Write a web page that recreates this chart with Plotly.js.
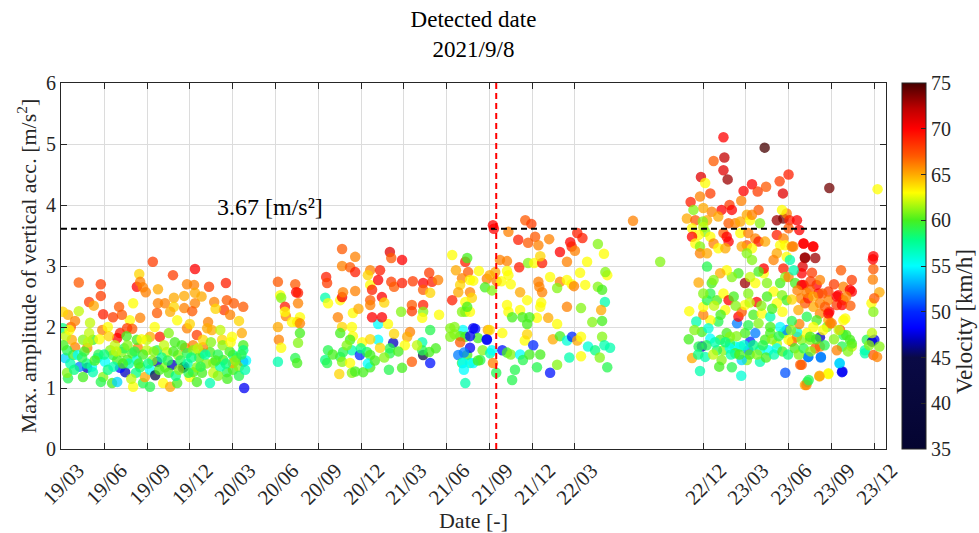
<!DOCTYPE html>
<html><head><meta charset="utf-8">
<script src="https://cdn.plot.ly/plotly-3.0.1.min.js"></script>
<style>html,body{margin:0;padding:0;background:#fff}#chart{width:979px;height:533px}</style>
</head><body><div id="chart"></div>
<script>
// day offsets are counted from 2019-03-01
const baseDateUTC = Date.UTC(2019, 2, 1);
const tickDates = ['2019-03-01','2019-06-01','2019-09-01','2019-12-01','2020-03-01','2020-06-01','2020-09-01','2020-12-01','2021-03-01','2021-06-01','2021-09-01','2021-12-01','2022-03-01','2022-12-01','2023-03-01','2023-06-01','2023-09-01','2023-12-01'];
const tickText = ['19/03','19/06','19/09','19/12','20/03','20/06','20/09','20/12','21/03','21/06','21/09','21/12','22/03','22/12','23/03','23/06','23/09','23/12'];
const velTicks = [35,40,45,50,55,60,65,70,75];
const threshold = 3.61;
const thresholdLabel = '3.67 [m/s²]';
const detectedDate = '2021-09-15';

// [day, max vertical acc (m/s^2), velocity (km/h)]
const pts2019 = [
[196,3.07,68],[286,2.95,70],[38,2.73,67],[85,2.70,68],[167,2.87,64],[162,2.66,70],[169,2.74,66],[239,2.85,68],[269,2.70,66],[284,2.69,66],[316,2.66,68],[352,2.72,69],[181,2.57,66],[207,2.62,65],[85,2.51,68],[60,2.41,68],[124,2.33,67],[154,2.39,63],[207,2.39,66],[222,2.39,66],[241,2.48,65],[263,2.51,65],[286,2.56,65],[286,2.39,66],[327,2.41,66],[354,2.44,67],[369,2.39,67],[389,2.33,67],[348,2.28,68],[361,2.20,66],[263,2.31,66],[280,2.26,67],[241,2.33,64],[233,2.25,65],[248,2.11,63],[205,2.23,67],[169,2.15,66],[147,2.11,63],[130,2.20,67],[111,2.16,68],[90,2.21,69],[38,2.26,62],[15,2.20,65],[4,2.25,64],[314,2.08,66],[322,1.95,65],[312,1.98,65],[386,1.90,65],[290,1.87,68],[269,1.98,66],[211,1.84,69],[190,1.84,65],[152,1.97,67],[126,1.90,69],[120,1.82,70],[141,1.98,68],[88,1.95,66],[62,2.07,62],[21,2.00,67],[4,1.98,58],[30,1.67,66],[56,1.66,66],[164,1.66,66],[265,1.66,66],[282,1.70,66],[344,1.79,64],[365,1.84,63],[389,1.70,60],
[9,1.49,54],[26,1.54,60],[36,1.54,55],[56,1.33,47],[66,1.35,55],[68,1.26,57],[15,1.16,59],[13,1.25,61],[47,1.18,60],[90,1.18,61],[109,1.08,60],[120,1.10,54],[137,1.26,47],[126,1.33,49],[94,1.43,55],[77,1.49,56],[111,1.54,59],[130,1.59,61],[152,1.57,60],[162,1.46,56],[154,1.02,63],[175,1.08,59],[190,1.02,59],[179,1.18,65],[190,1.30,55],[201,1.21,44],[205,1.43,47],[222,1.34,61],[218,1.08,63],[233,1.02,65],[248,1.08,60],[237,1.38,47],[260,1.33,44],[263,1.35,45],[275,1.18,63],[282,1.26,60],[250,1.54,61],[226,1.59,62],[205,1.62,59],[183,1.62,62],[303,1.57,59],[318,1.59,60],[325,1.41,61],[325,1.25,62],[318,1.08,57],[346,1.46,60],[354,1.26,59],[367,1.30,60],[367,1.54,58],[389,1.43,50],[391,1.00,48],[367,1.41,65],[389,1.62,58],[301,1.25,60],[290,1.34,61],[269,1.57,59],[282,1.62,61],[169,1.34,59],[141,1.46,60],[120,1.46,60],[105,1.62,61],[68,1.79,60],[47,1.79,61],[23,1.79,65],[13,1.62,59],[162,1.79,60],[183,1.79,62],[243,1.75,60],[303,1.67,66],[303,1.79,64],
[20,1.40,57],[40,1.35,52],[50,1.60,60],[80,1.55,59],[100,1.30,58],[115,1.70,62],[135,1.65,59],[145,1.40,57],[160,1.25,58],[175,1.55,60],[195,1.45,61],[215,1.50,58],[230,1.25,60],[255,1.45,59],[270,1.40,57],[295,1.50,60],[310,1.40,61],[335,1.55,59],[340,1.35,57],[360,1.60,60],[375,1.50,59],[380,1.35,61],[100,2.00,63],[60,1.90,62],[140,1.85,60],[200,2.00,63],[230,1.90,61],[275,2.05,64],[340,1.95,62],[380,2.10,64],[10,1.85,62],[30,2.10,66],[70,2.35,65],[175,2.65,66],[300,2.50,65],[330,2.30,64],[55,1.40,58],[85,1.10,59],[150,1.15,62],[245,1.20,58],[290,1.10,60],[335,1.20,61],[355,1.15,60],[380,1.20,59],[395,1.45,55],
[5,1.70,60],[18,1.95,63],[28,1.30,58],[45,1.50,59],[58,1.75,62],[72,1.45,60],[82,1.80,63],[92,1.55,58],[102,1.85,64],[112,1.35,57],[118,1.60,62],[132,1.40,60],[142,1.70,61],[157,1.60,59],[166,1.40,60],[172,1.80,63],[186,1.40,58],[198,1.60,61],[210,1.30,60],[220,1.70,62],[228,1.45,59],[240,1.60,60],[252,1.30,61],[258,1.70,60],[272,1.25,59],[278,1.50,58],[292,1.65,62],[298,1.35,59],[308,1.55,57],[320,1.75,61],[330,1.45,60],[345,1.70,61],[352,1.40,58],[362,1.75,63],[372,1.45,61],[385,1.55,59],[393,1.30,57]
];
const pts2020a = [
[463,2.74,67],[468,2.52,63],[470,2.48,61],[478,2.33,69],[480,2.18,66],[478,2.25,63],[463,2.00,65],[465,1.79,66],[470,1.66,63],[463,1.43,57],[500,2.70,67],[502,2.57,70],[506,2.56,69],[506,2.39,66],[510,2.16,63],[504,2.08,64],[493,2.08,63],[510,2.06,66],[510,1.90,60],[506,1.74,61],[500,1.49,59],[504,1.41,60]
];
const pts2020b = [
[566,2.82,69],[568,2.72,68],[600,3.28,67],[628,3.15,66],[600,3.00,66],[617,2.98,67],[628,2.90,69],[564,2.48,57],[570,2.39,63],[596,2.44,63],[600,2.49,70],[602,2.57,66],[628,2.59,66],[660,2.93,66],[655,2.85,64],[660,2.69,63],[664,2.61,69],[660,2.44,67],[660,2.36,66],[681,2.93,69],[677,2.77,70],[685,2.49,70],[702,3.23,71],[705,3.13,67],[728,3.10,70],[705,2.74,68],[711,2.66,67],[728,2.72,69],[751,2.75,68],[773,2.72,70],[773,2.61,67],[786,2.89,68],[792,2.74,69],[788,2.56,64],[805,2.77,66],[749,2.36,67],[749,2.26,68],[773,2.36,69],[773,2.25,61],[771,2.15,63],[807,2.20,63],[726,2.25,61],[788,1.95,59],[745,1.92,66],[739,1.84,65],[734,1.70,63],[709,1.74,47],[711,1.89,64],[702,1.65,59],[702,1.57,59],[677,2.05,55],[677,1.79,55],[681,1.66,64],[698,2.05,63],[685,2.16,70],[664,2.16,70],[623,2.23,63],[591,2.16,66],[600,2.00,64],[621,2.00,63],[596,1.90,60],[623,1.85,63],[617,1.79,60],[643,1.75,63],[660,1.80,64],[621,1.62,57],[638,1.54,50],[653,1.59,59],[660,1.54,60],[602,1.59,59],[596,1.51,59],[600,1.43,61],[570,1.62,59],[564,1.46,58],[568,1.41,59],[594,1.23,64],[617,1.41,63],[621,1.25,61],[628,1.27,60],[645,1.26,60],[660,1.34,60],[655,1.40,55],[728,1.33,60],[749,1.43,67],[771,1.75,57],[773,1.54,44],[788,1.41,49],[786,1.59,60],[771,1.62,59],
[580,1.55,60],[610,1.70,61],[640,1.65,58],[670,1.45,60],[690,1.50,61],[720,1.60,60],[760,1.70,62],[800,1.65,60],[700,1.30,59],[635,2.30,65],[690,2.40,64]
];
const pts2021 = [
[835,3.18,63],[843,2.93,65],[863,3.07,69],[867,3.13,60],[869,2.90,67],[892,2.92,63],[856,2.80,66],[873,2.77,63],[880,2.76,63],[852,2.69,64],[848,2.57,65],[873,2.57,66],[877,2.48,64],[863,2.41,63],[835,2.44,69],[863,2.25,61],[856,2.25,61],[873,2.25,63],[867,2.33,60],[831,1.98,61],[831,1.84,61],[858,1.95,55],[884,1.97,49],[863,1.84,60],[890,1.82,60],[909,1.79,49],[911,1.95,65],[848,1.54,52],[867,1.54,60],[895,1.46,59],[856,1.41,59],[873,1.41,57],[860,1.30,55],[900,1.62,61],[916,1.57,57],
[922,3.67,70],[924,3.61,70],[991,3.75,67],[1004,3.69,68],[955,3.56,66],[976,3.43,69],[997,3.38,67],[1012,3.48,67],[1019,3.34,66],[1042,3.44,66],[1087,3.39,70],[1102,3.54,69],[1113,3.46,69],[1090,3.32,69],[1097,3.25,66],[1146,3.36,61],[1159,3.20,63],[1065,3.23,70],[1080,3.07,66],[1123,3.07,63],[937,3.10,66],[952,3.08,66],[978,2.98,69],[997,3.05,61],[1010,3.05,63],[1027,3.05,69],[1023,3.16,64],[952,2.92,63],[909,2.79,66],[915,2.85,65],[927,2.90,65],[930,2.75,66],[940,2.75,63],[955,2.85,63],[960,2.70,63],[905,2.65,60],[920,2.60,61],[980,2.57,65],[995,2.44,63],[1019,2.74,66],[1021,2.66,66],[1027,2.57,66],[1044,2.82,63],[1065,2.74,66],[1059,2.64,61],[1080,2.77,63],[1090,2.70,63],[1095,2.67,66],[1108,2.89,63],[1119,2.69,63],[1146,2.66,61],[1155,2.61,60],[1161,2.41,57],[1166,2.85,63],[1162,2.90,61],[1080,2.33,66],[1110,2.31,61],[1153,2.28,65],[1134,2.08,61],[1155,2.10,60],[1040,2.15,65],[1059,2.05,63],[1023,2.33,63],[1025,2.40,63],[1016,2.15,63],[995,2.05,60],[980,2.28,63],[952,2.36,63],[955,2.25,63],[963,2.16,60],[985,2.16,60],[1000,2.16,60],[942,1.90,63],[915,1.95,64],[880,1.98,48],[873,1.85,48],[852,1.85,60],[840,2.00,61],[840,1.88,61],[852,1.75,67],[873,1.66,48],[860,1.58,52],[858,1.41,55],[863,1.08,57],[880,1.41,55],[890,1.45,60],[909,1.80,48],[920,1.62,55],[922,1.41,66],[929,1.25,59],[942,1.62,49],[952,1.58,60],[960,1.55,61],[969,1.30,59],[963,1.13,59],[980,1.55,55],[986,1.46,59],[990,1.78,63],[995,1.88,64],[1008,1.70,50],[1000,1.55,60],[1023,1.55,60],[1016,1.34,59],[1044,1.25,49],[1059,1.38,61],[1050,1.80,65],[1065,1.85,60],[1080,1.78,56],[1091,1.84,50],[1102,1.78,65],[1110,1.84,63],[1125,1.68,56],[1140,1.62,58],[1155,1.84,61],[1160,1.70,57],[1172,1.66,57],[1150,1.50,61],[1166,1.34,59],[1085,1.50,57],[1110,1.52,63]
];
const pts2022 = [[1221,3.74,66],[1279,3.07,61]];
const pts2023 = [
[1414,5.11,70],[1502,4.94,75],[1416,4.78,72],[1414,4.57,71],[1423,4.42,73],[1393,4.72,67],[1366,4.46,71],[1375,4.36,63],[1386,4.19,68],[1344,4.05,69],[1364,4.14,66],[1475,4.34,70],[1457,4.23,70],[1487,4.22,68],[1505,4.30,67],[1534,4.39,68],[1553,4.50,69],[1541,4.19,71],[1452,4.07,66],[1427,4.00,68],[1432,3.92,70],[1410,3.92,70],[1389,3.89,66],[1403,3.81,65],[1371,3.95,65],[1350,3.92,61],[1336,3.78,65],[1354,3.75,67],[1379,3.75,65],[1370,3.73,61],[1347,3.62,63],[1371,3.64,62],[1375,3.56,61],[1361,3.51,63],[1347,3.48,70],[1354,3.37,63],[1364,3.32,61],[1386,3.48,63],[1364,3.21,66],[1379,3.21,65],[1393,3.37,66],[1403,3.29,63],[1414,3.54,67],[1421,3.48,70],[1425,3.40,70],[1418,3.29,65],[1425,3.70,67],[1439,3.70,66],[1450,3.73,65],[1464,3.84,65],[1471,3.75,63],[1489,3.92,67],[1475,3.84,66],[1492,3.70,61],[1450,3.54,63],[1467,3.54,66],[1482,3.45,66],[1489,3.40,69],[1503,3.40,65],[1464,3.34,67],[1453,3.32,65],[1475,3.29,63],[1464,3.21,61],[1475,3.10,61],
[1528,3.75,73],[1542,3.78,74],[1549,3.86,66],[1555,3.75,69],[1539,3.92,63],[1571,3.75,70],[1576,3.59,70],[1553,3.62,67],[1528,3.51,69],[1542,3.45,66],[1546,3.34,63],[1560,3.32,66],[1535,3.34,63],[1528,3.21,65],[1549,3.15,63],[1542,2.96,69],[1521,3.10,66],[1585,3.37,70],[1588,3.13,73],[1610,3.13,73],[1605,3.32,70],[1583,2.99,71],[1581,2.88,70],[1603,2.89,68],[1585,2.69,70],[1613,2.69,70],[1620,2.77,66],[1599,2.61,67],[1617,2.55,70],[1638,2.58,68],[1638,2.44,66],[1665,2.93,67],[1688,2.77,68],[1688,2.58,70],[1670,2.66,66],[1659,2.52,70],[1670,2.44,66],[1656,2.36,68],[1640,2.25,70],[1638,2.11,65],[1620,2.22,66],[1606,2.33,65],[1588,2.39,67],[1579,2.47,66],[1595,2.47,69],[1574,2.28,65],[1592,2.17,59],[1613,2.11,60],[1635,2.00,61],[1645,2.06,66],[1670,2.11,63],[1663,1.95,67],[1670,1.87,59],[1684,1.79,60],[1688,1.68,62],[1667,1.68,59],[1656,1.62,66],[1662,1.40,54],[1667,1.26,48],[1638,1.23,63],[1619,1.20,65],[1622,1.50,52],[1620,1.83,47],[1620,1.68,66],[1599,1.79,61],[1595,1.51,52],[1578,1.38,67],[1588,1.05,65],[1593,1.10,59],[1546,1.25,51],[1560,1.76,67],[1542,1.90,59],[1549,1.95,52],[1535,2.00,55],[1514,1.90,60],[1528,1.73,62],[1503,1.79,60],[1492,1.62,56],[1492,1.43,57],[1510,1.62,55],[1528,1.65,55],[1482,1.90,52],[1471,1.76,50],[1467,1.62,52],[1464,1.46,61],[1453,1.46,54],[1452,1.20,56],[1432,1.34,59],[1450,1.68,57],[1439,1.68,55],[1428,1.73,59],[1414,1.62,61],[1407,1.79,60],[1421,1.90,60],[1443,2.06,52],[1446,2.17,70],[1453,2.25,67],[1460,2.36,63],[1478,2.20,60],[1496,2.22,63],[1514,2.17,57],[1485,2.41,70],[1467,2.55,61],[1460,2.72,73],[1482,2.72,63],[1471,2.82,62],[1507,2.72,61],[1521,2.58,63],[1535,2.72,60],[1546,2.82,61],[1553,2.82,66],[1564,2.93,57],[1539,2.52,61],[1549,2.44,60],[1528,2.39,63],[1507,2.50,60],[1500,2.88,63],[1500,2.96,70],[1489,2.91,60],[1446,2.88,60],[1432,2.82,61],[1421,2.93,63],[1407,2.88,65],[1389,2.72,60],[1379,2.99,59],[1393,2.77,61],[1386,2.55,59],[1400,2.44,60],[1414,2.55,63],[1425,2.44,70],[1436,2.50,60],[1418,2.28,63],[1403,2.09,59],[1386,2.11,63],[1371,2.20,66],[1371,2.33,63],[1379,2.44,59],[1371,2.55,61],[1361,2.73,65],[1341,2.26,63],[1356,2.09,57],[1368,1.92,60],[1382,1.98,56],[1386,1.81,55],[1368,1.68,47],[1361,1.68,59],[1375,1.51,57],[1347,1.49,65],[1364,1.28,57],[1428,1.84,61],[1428,1.65,55],[1439,1.57,60],[1410,1.46,61],[1400,1.62,59],[1460,1.90,60],[1489,2.06,61],[1467,2.03,59],[1514,2.00,60],[1553,1.79,63],[1571,1.84,66],[1581,1.79,61],[1592,1.90,63],[1606,2.00,63],
[1684,2.61,70],[1656,2.50,70],[1667,2.36,70],[1674,2.14,63],[1676,1.87,60],[1688,1.73,60],[1668,1.27,48],[1662,1.41,54],[1638,1.24,63],[1619,1.19,65],[1591,1.05,66],[1596,1.13,59],[1622,1.51,52],[1610,1.65,67],[1581,1.38,67],[1595,1.51,52],[1640,4.28,74],[1585,3.37,70],[1606,3.32,70],[1588,3.14,73],
[1563,3.32,66],[1556,3.10,57],[1567,2.72,60],[1581,2.69,70],[1592,2.56,66],[1606,2.50,65],[1620,2.39,66],[1631,2.33,67],[1638,2.22,70],[1642,2.06,66],[1627,1.95,63],[1599,1.84,60],[1571,1.92,56],[1576,2.05,66],[1560,2.10,59],
[1340,1.80,60],[1352,1.95,61],[1360,1.55,58],[1378,1.70,59],[1392,1.55,62],[1396,1.75,57],[1405,1.35,60],[1418,1.75,58],[1430,1.55,57],[1442,1.85,61],[1448,1.55,60],[1458,1.70,56],[1470,1.55,60],[1478,1.70,58],[1486,1.55,61],[1498,1.70,59],[1505,1.50,60],[1518,1.80,61],[1522,1.55,57],[1532,1.85,59],[1540,1.60,60],[1552,1.55,58],[1558,1.95,61],[1566,1.65,60],[1575,1.55,61],[1585,1.65,59],[1600,1.60,61],[1612,1.80,60],[1630,1.70,59],[1650,1.80,61],[1660,1.95,62],[1680,1.60,61],[1394,2.35,62],[1408,2.20,60],[1440,2.35,61],[1470,2.40,62],[1495,2.35,61],[1518,2.30,60],[1540,2.25,63],[1560,2.45,64],[1572,2.60,66],[1600,2.75,68],[1625,2.55,67],[1650,2.70,68],[1676,2.50,66],[1685,2.35,67]
];
const ptsLate2023 = [
[1720,1.79,59],[1731,1.76,46],[1736,1.79,48],[1716,1.57,57],[1734,1.54,67],[1747,1.68,61],[1731,1.90,62],[1742,1.51,66],[1730,2.39,63],[1734,2.25,61],[1747,2.57,65],[1736,2.47,67],[1733,2.78,66],[1734,2.95,67],[1734,3.16,70],[1733,3.11,70],[1743,4.26,63],[1716,1.62,57],[1725,1.70,61]
];

const allPts = [].concat(pts2019, pts2020a, pts2020b, pts2021, pts2022, pts2023, ptsLate2023);
function dayToDate(d){ return new Date(baseDateUTC + d*86400000).toISOString().slice(0,10); }

const jetLike = [
 [0.00,'rgb(4,4,48)'],[0.25,'rgb(10,10,70)'],[0.30,'rgb(0,0,190)'],[0.33,'rgb(0,0,255)'],
 [0.375,'rgb(0,40,255)'],[0.50,'rgb(0,255,255)'],[0.57,'rgb(0,255,140)'],[0.625,'rgb(70,240,30)'],
 [0.70,'rgb(255,255,0)'],[0.75,'rgb(255,170,0)'],[0.80,'rgb(255,90,0)'],[0.875,'rgb(255,0,0)'],
 [0.93,'rgb(190,0,0)'],[1.00,'rgb(70,0,0)']
];

const serif = 'Liberation Serif, Times New Roman, serif';
const ink = '#262626';

const trace = {
  type:'scatter', mode:'markers',
  x: allPts.map(p=>dayToDate(p[0])),
  y: allPts.map(p=>p[1]),
  marker:{
    size:10.5, opacity:0.75, color: allPts.map(p=>p[2]),
    colorscale: jetLike, cmin:35, cmax:75, line:{width:0},
    colorbar:{
      x:(902-61)/825, xanchor:'left', y:0.5, yanchor:'middle', len:1, lenmode:'fraction',
      thickness:24, thicknessmode:'pixels', xpad:0, ypad:0,
      outlinewidth:1, outlinecolor:ink,
      tickmode:'array', tickvals: velTicks, ticks:'inside', ticklen:5, tickcolor:ink,
      tickfont:{family:serif, size:20, color:ink}
    }
  },
  hoverinfo:'skip', showlegend:false
};

const axisCommon = {
  showline:true, linecolor:ink, linewidth:1, mirror:'ticks',
  ticks:'inside', ticklen:6, tickcolor:ink, tickwidth:1,
  showgrid:true, gridcolor:'#dcdcdc', gridwidth:1, zeroline:false,
  tickfont:{family:serif, size:20, color:ink}, automargin:false
};

const layout = {
  width:979, height:533,
  margin:{l:61, r:93, t:83, b:84, pad:0, autoexpand:false},
  paper_bgcolor:'#fff', plot_bgcolor:'#fff',
  title:{text:'Detected date<br>2021/9/8', x:0.5, xref:'paper', xanchor:'center', y:0.95, yref:'container', yanchor:'top',
         font:{family:serif, size:23, color:'#000'}},
  xaxis: Object.assign({}, axisCommon, {
    type:'date', range:['2019-03-01','2023-12-26'],
    tickmode:'array', tickvals: tickDates, ticktext: tickText, tickangle:-45, ticklabelshift:17,
    tickfont:{family:serif, size:21, color:ink},
    title:{text:'Date [-]', font:{family:serif, size:22, color:ink}, standoff:6}
  }),
  yaxis: Object.assign({}, axisCommon, {
    range:[0,6], tickmode:'linear', tick0:0, dtick:1,
    title:{text:'Max. amplitude of vertical acc. [m/s<sup>2</sup>]', font:{family:serif, size:22, color:ink}, standoff:3}
  }),
  shapes:[
    {type:'line', xref:'paper', x0:0, x1:1, yref:'y', y0:threshold, y1:threshold, line:{color:'#000', width:2, dash:'6px,4px'}, layer:'above'},
    {type:'line', xref:'x', x0:detectedDate, x1:detectedDate, yref:'paper', y0:0, y1:1, line:{color:'#ff0000', width:2, dash:'6px,4px'}, layer:'above'}
  ],
  annotations:[
    {text: thresholdLabel, xref:'paper', x:(270-61)/825, yref:'y', y:3.97, showarrow:false, xanchor:'center', yanchor:'middle',
     font:{family:serif, size:24, color:'#000'}},
    {text:'Velocity [km/h]', xref:'paper', x:(964-61)/825, xanchor:'center', yref:'paper', y:(449-322)/366, yanchor:'middle',
     textangle:-90, showarrow:false, font:{family:serif, size:23, color:ink}}
  ]
};

Plotly.newPlot('chart', [trace], layout, {displayModeBar:false, staticPlot:true});
</script>
</body></html>
